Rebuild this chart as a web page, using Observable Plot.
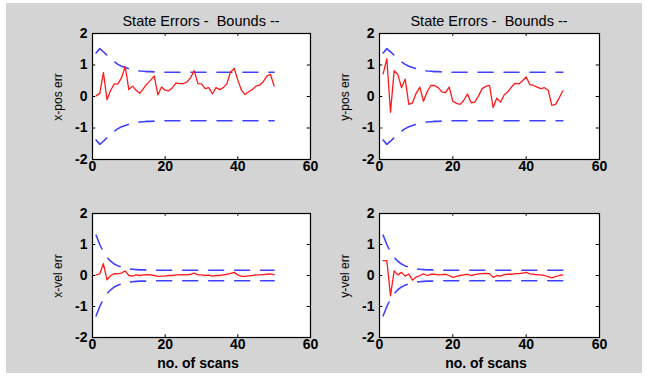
<!DOCTYPE html>
<html>
<head>
<meta charset="utf-8">
<script src="https://cdn.jsdelivr.net/npm/d3@7"></script>
<script src="https://cdn.jsdelivr.net/npm/@observablehq/plot@0.6"></script>
<style>
  html, body { margin: 0; padding: 0; background: #ffffff; }
  #fig { position: absolute; left: 6px; top: 3px; width: 636px; height: 370px; background: #d4d4d4; }
  .abs { position: absolute; }
  .lbl { position: absolute; transform: translate(-50%, -50%); white-space: pre; font-family: "Liberation Sans", Arial, sans-serif; color: #000; }
  .title { font-size: 14.5px; }
  .ylab { font-size: 12px; transform: translate(-50%, -50%) rotate(-90deg); }
  .xlab { font-size: 14px; font-weight: bold; }
</style>
</head>
<body>
<div id="root"></div>
<script>
// ---- data ----
const scans = [1,2,3,4,5,6,7,8,9,10,11,12,13,14,15,16,17,18,19,20,21,22,23,24,25,26,27,28,29,30,31,32,33,34,35,36,37,38,39,40,41,42,43,44,45,46,47,48,49,50];

const xPosErr = [0.02,0.1,0.76,-0.1,0.2,0.4,0.4,0.6,0.95,0.22,0.33,0.2,0.1,0.25,0.4,0.52,0.65,0.05,0.3,0.2,0.18,0.28,0.43,0.41,0.41,0.46,0.6,0.82,0.41,0.4,0.25,0.28,0.08,0.28,0.22,0.28,0.41,0.78,0.89,0.52,0.2,0.06,0.15,0.22,0.33,0.36,0.47,0.65,0.7,0.33];
const yPosErr = [0.72,1.2,-0.5,0.82,0.7,0.28,0.55,-0.25,-0.2,0.1,0.3,-0.15,0.15,0.35,0.35,0.28,0.15,0.12,0.3,-0.15,-0.22,-0.25,-0.12,0.08,-0.2,-0.18,0.02,0.25,0.32,0.35,-0.35,-0.05,-0.18,0.05,0.15,0.3,0.42,0.4,0.5,0.62,0.38,0.35,0.3,0.25,0.28,0.2,-0.28,-0.25,-0.05,0.18];
const xVelErr = [0.02,0.05,0.38,-0.14,0.0,0.06,0.05,0.08,0.15,0.0,-0.02,0.02,0.0,0.02,0.03,0.02,0.0,-0.03,-0.02,-0.02,0.0,0.0,0.02,0.02,0.03,0.02,0.04,0.08,0.02,0.02,0.0,0.01,-0.02,0.0,0.0,0.02,0.04,0.07,0.1,0.02,-0.03,-0.03,-0.01,0.0,0.02,0.02,0.03,0.04,0.05,0.03];
const yVelErr = [0.48,0.48,-0.65,0.15,0.02,0.1,-0.02,0.05,-0.15,-0.05,0.0,0.05,0.0,0.04,0.04,0.02,0.03,0.04,0.0,-0.06,-0.03,0.0,0.02,0.04,0.0,0.03,0.05,0.06,0.07,0.06,-0.06,0.0,-0.02,0.03,0.04,0.04,0.06,0.06,0.08,0.1,0.05,0.04,0.02,0.02,0.0,-0.04,-0.08,-0.04,0.0,0.02];

const posBound = [1.38,1.52,1.42,1.31,1.2,1.1,1.02,0.96,0.92,0.88,0.85,0.83,0.81,0.8,0.79,0.79,0.78,0.78,0.78,0.77,0.77,0.77,0.77,0.77,0.77,0.77,0.77,0.77,0.77,0.77,0.77,0.77,0.77,0.77,0.77,0.77,0.77,0.77,0.77,0.77,0.77,0.77,0.77,0.77,0.77,0.77,0.77,0.77,0.77,0.77];
const velBound = [1.3,1.0,0.76,0.58,0.46,0.37,0.31,0.27,0.24,0.21,0.2,0.19,0.18,0.18,0.18,0.18,0.17,0.17,0.17,0.17,0.17,0.17,0.17,0.17,0.17,0.17,0.17,0.17,0.17,0.17,0.17,0.17,0.17,0.17,0.17,0.17,0.17,0.17,0.17,0.17,0.17,0.17,0.17,0.17,0.17,0.17,0.17,0.17,0.17,0.17];

const xTicks = [0, 20, 40, 60];
const yTicks = [-2, -1, 0, 1, 2];
const titleText = "State Errors -  Bounds --";
const xLabelText = "no. of scans";

const panels = [
  {err: xPosErr, bound: posBound, ylabel: "x-pos err", left: 92, top: 33, w: 218, h: 126, title: true, xlabel: false},
  {err: yPosErr, bound: posBound, ylabel: "y-pos err", left: 379, top: 33, w: 220, h: 126, title: true, xlabel: false},
  {err: xVelErr, bound: velBound, ylabel: "x-vel err", left: 92, top: 213, w: 218, h: 124, title: false, xlabel: true},
  {err: yVelErr, bound: velBound, ylabel: "y-vel err", left: 379, top: 213, w: 220, h: 124, title: false, xlabel: true}
];

const root = document.getElementById("root");
const fig = document.createElement("div");
fig.id = "fig";
root.appendChild(fig);

const mL = 50, mR = 12, mT = 20, mB = 30;
const blue = "#4040ff";

for (const p of panels) {
  const rows = scans.map((s, i) => ({s, e: p.err[i], up: p.bound[i], lo: -p.bound[i]}));
  const chart = Plot.plot({
    width: p.w + mL + mR,
    height: p.h + mT + mB,
    marginLeft: mL, marginRight: mR, marginTop: mT, marginBottom: mB,
    style: {background: "transparent", fontFamily: "'Liberation Sans', Arial, sans-serif", fontSize: "14px", fontWeight: "bold", color: "#000", overflow: "visible"},
    x: {domain: [0, 60]},
    y: {domain: [-2, 2]},
    marks: [
      Plot.frame({fill: "white", stroke: null}),
      Plot.line(rows, {x: "s", y: "up", stroke: blue, strokeWidth: 1.6, strokeDasharray: "15,11"}),
      Plot.line(rows, {x: "s", y: "lo", stroke: blue, strokeWidth: 1.6, strokeDasharray: "15,11"}),
      Plot.line(rows, {x: "s", y: "e", stroke: "#ff1a1a", strokeWidth: 1.3}),
      Plot.ruleY(yTicks, {x1: 0, x2: 0.9, stroke: "black", strokeWidth: 1}),
      Plot.ruleY(yTicks, {x1: 59.1, x2: 60, stroke: "black", strokeWidth: 1}),
      Plot.ruleX(xTicks, {y1: -2, y2: -1.91, stroke: "black", strokeWidth: 1}),
      Plot.ruleX(xTicks, {y1: 1.91, y2: 2, stroke: "black", strokeWidth: 1}),
      Plot.frame({stroke: "black", strokeWidth: 1.2}),
      Plot.axisX({ticks: xTicks, tickSize: 0, tickPadding: 2, label: null, tickFormat: d => String(d)}),
      Plot.axisY({ticks: yTicks, tickSize: 0, tickPadding: 5, label: null, tickFormat: d => String(d)})
    ]
  });
  chart.classList.add("abs");
  chart.style.left = (p.left - mL - 6) + "px";
  chart.style.top = (p.top - mT - 3) + "px";
  fig.appendChild(chart);

  const cx = p.left + p.w / 2;
  if (p.title) {
    const t = document.createElement("div");
    t.className = "lbl title";
    t.textContent = titleText;
    t.style.left = (cx - 6) + "px";
    t.style.top = (p.top - 12 - 3) + "px";
    fig.appendChild(t);
  }
  if (p.xlabel) {
    const t = document.createElement("div");
    t.className = "lbl xlab";
    t.textContent = xLabelText;
    t.style.left = (cx - 6 - 3) + "px";
    t.style.top = (p.top + p.h + 26 - 3) + "px";
    fig.appendChild(t);
  }
  const yl = document.createElement("div");
  yl.className = "lbl ylab";
  yl.textContent = p.ylabel;
  yl.style.left = (p.left - 34 - 6) + "px";
  yl.style.top = (p.top + p.h / 2 + 1 - 3) + "px";
  fig.appendChild(yl);
}
</script>
</body>
</html>
